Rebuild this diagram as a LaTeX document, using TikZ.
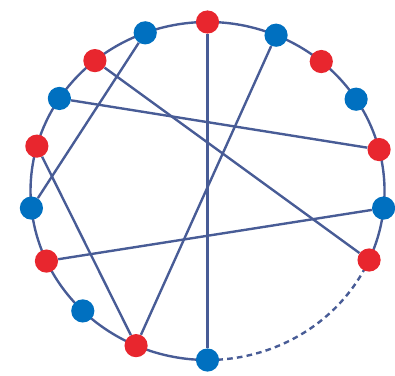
\documentclass[tikz,border=0pt]{standalone}
\definecolor{chordblue}{RGB}{72,92,150}
\definecolor{dotred}{RGB}{232,38,46}
\definecolor{dotblue}{RGB}{0,112,192}
\begin{document}
\begin{tikzpicture}[
  rd/.style={circle,fill=dotred,minimum size=0.58cm,inner sep=0pt},
  bl/.style={circle,fill=dotblue,minimum size=0.58cm,inner sep=0pt},
  chord/.style={chordblue,line width=1.7pt}]
\useasboundingbox (-5.1875,-4.6) rectangle (4.6875,4.775);
\foreach \a/\s/\n in {90/rd/p1,67.2/bl/p2,50/rd/p3,32.9/bl/p4,14.2/rd/p5,-5.8/bl/p6,
  -24.1/rd/p7,-90/bl/p8,-113.8/rd/p9,-134.8/bl/p10,-155.5/rd/p11,-174.2/bl/p12,
  164.6/rd/p13,146.8/bl/p14,129.5/rd/p15,110.6/bl/p16}
  \coordinate (c\n) at (\a:4.425 and 4.225);
% ring, open part dashed
\draw[chord] (cp7) arc[start angle=-24.1,end angle=270,x radius=4.425,y radius=4.225];
\draw[chord,dash pattern=on 4pt off 3pt] (cp8) arc[start angle=-90,end angle=-24.1,x radius=4.425,y radius=4.225];
\foreach \a/\s/\n in {90/rd/p1,67.2/bl/p2,50/rd/p3,32.9/bl/p4,14.2/rd/p5,-5.8/bl/p6,
  -24.1/rd/p7,-90/bl/p8,-113.8/rd/p9,-134.8/bl/p10,-155.5/rd/p11,-174.2/bl/p12,
  164.6/rd/p13,146.8/bl/p14,129.5/rd/p15,110.6/bl/p16}
  \node[\s] (\n) at (c\n) {};
\draw[chord] (p1)--(p8);
\draw[chord] (p2)--(p9);
\draw[chord] (p16)--(p12);
\draw[chord] (p15)--(p7);
\draw[chord] (p14)--(p5);
\draw[chord] (p13)--(p9);
\draw[chord] (p11)--(p6);
\end{tikzpicture}
\end{document}
